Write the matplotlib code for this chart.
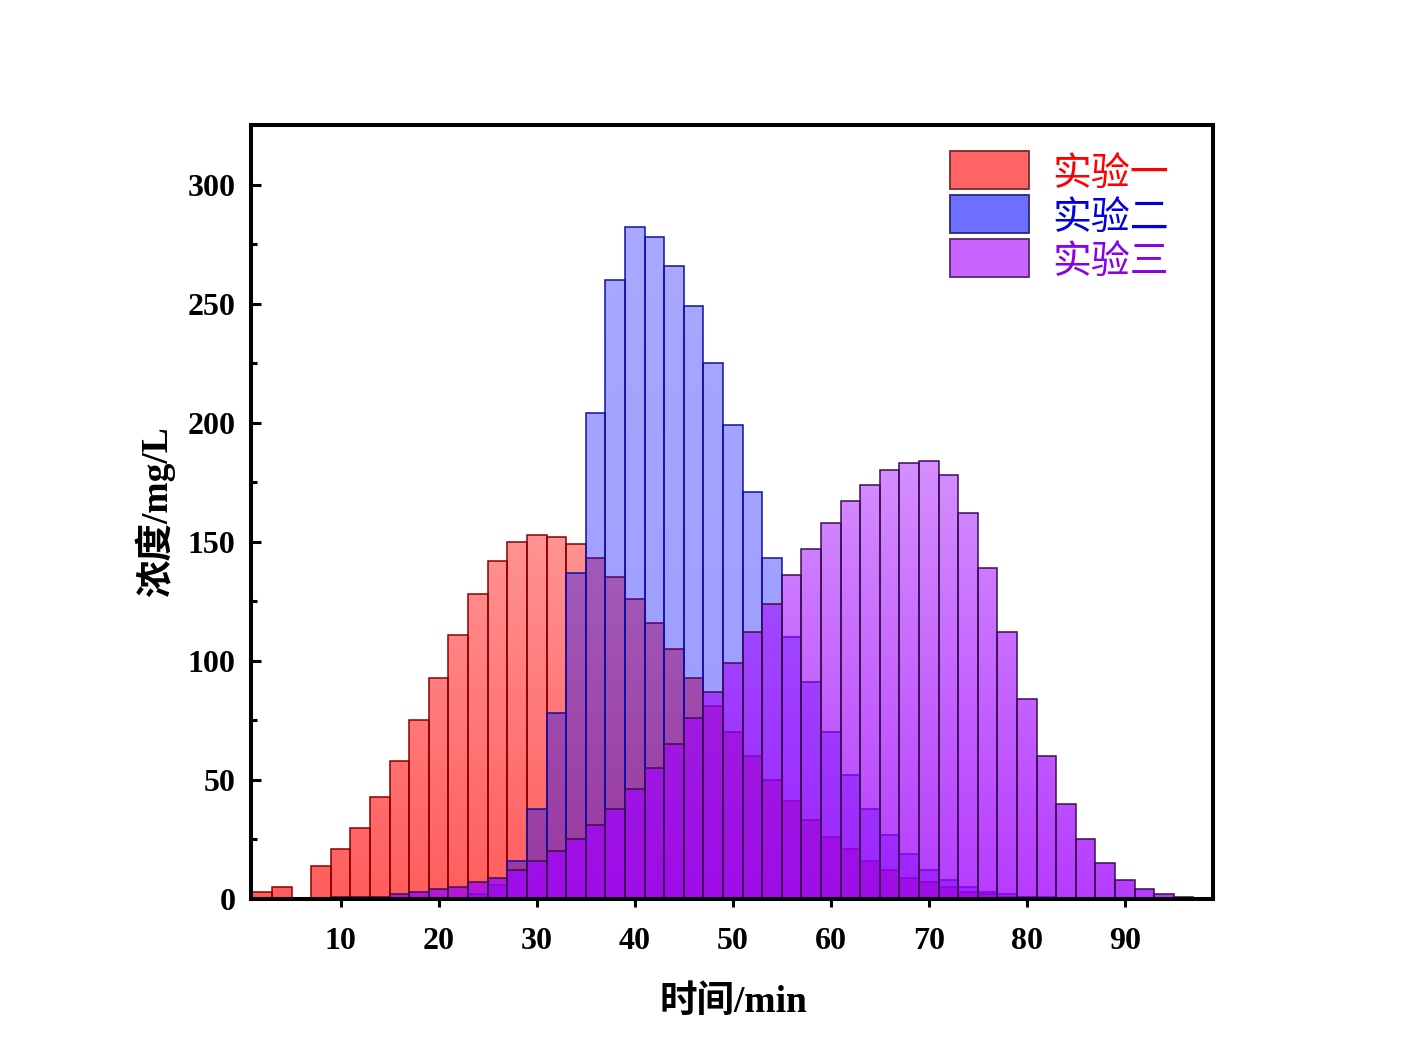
import numpy as np
import matplotlib
matplotlib.use("Agg")
import matplotlib.pyplot as plt
from matplotlib.path import Path
from matplotlib.patches import PathPatch, Rectangle
from matplotlib.ticker import MultipleLocator
from matplotlib.colors import to_rgb

plt.rcParams['font.family'] = ['Liberation Serif', 'Noto Sans CJK SC', 'DejaVu Sans']

# ---- data ----
bin_centers = list(range(2, 97, 2))  # bins of width 2: [1,3], [3,5], ... [95,97]
exp1 = [3, 5, 0, 14, 21, 30, 43, 58, 75, 93, 111, 128, 142, 150, 153, 152, 149, 143,
        135, 126, 116, 105, 93, 81, 70, 60, 50, 41, 33, 26, 21, 16, 12, 9, 7, 5, 3, 2,
        1, 1, 0, 0, 0, 0, 0, 0, 0, 0]
exp2 = [0, 0, 0, 0, 0, 0, 0, 0, 0, 0, 0, 2, 6, 16, 38, 78, 137, 204, 260, 282, 278,
        266, 249, 225, 199, 171, 143, 110, 91, 70, 52, 38, 27, 19, 12, 8, 5, 3, 2, 1,
        1, 0, 0, 0, 0, 0, 0, 0]
exp3 = [0, 0, 0, 0, 1, 1, 1, 2, 3, 4, 5, 7, 9, 12, 16, 20, 25, 31, 38, 46, 55, 65,
        76, 87, 99, 112, 124, 136, 147, 158, 167, 174, 180, 183, 184, 178, 162, 139,
        112, 84, 60, 40, 25, 15, 8, 4, 2, 1]
series_names = ['实验一', '实验二', '实验三']
bin_width = 2
x_ticks = [10, 20, 30, 40, 50, 60, 70, 80, 90]
y_ticks = [0, 50, 100, 150, 200, 250, 300]
x_label = '时间/min'
y_label = '浓度/mg/L'

XMIN, XMAX, YMIN, YMAX = 0.85, 99.0, 0, 325

fill_colors = ['#FF0000', '#0000FF', '#A000FF']
alpha_ranges = [(0.64, 0.22), (0.40, 0.34), (0.77, 0.24)]  # alpha at y=0 and y=300
edge_colors = ['#8C0000', '#1010A8', '#3A1050']
text_colors = ['#FF0000', '#0000E0', '#8C00E6']
legend_face = ['#FF6464', '#6E6EFF', '#C864FF']
legend_edge = ['#7A2A2A', '#2A2A7A', '#5A2A6A']

fig = plt.figure(figsize=(14.11, 10.5), dpi=100)
ax = fig.add_axes([251 / 1411, 1 - 899 / 1050, 962 / 1411, 774 / 1050])


def gradient_bars(ax, xs, hs, color, arange, edge, z):
    bars = ax.bar(xs, hs, width=bin_width, fill=False, edgecolor=edge,
                  linewidth=1.1, zorder=z + 0.1)
    verts, codes = [], []
    for b in bars:
        x0, y0 = b.get_x(), b.get_y()
        w, h = b.get_width(), b.get_height()
        if h <= 0:
            continue
        verts += [(x0, y0), (x0 + w, y0), (x0 + w, y0 + h), (x0, y0 + h), (x0, y0)]
        codes += [Path.MOVETO, Path.LINETO, Path.LINETO, Path.LINETO, Path.CLOSEPOLY]
    clip = PathPatch(Path(verts, codes), facecolor='none', edgecolor='none',
                     transform=ax.transData)
    ax.add_patch(clip)
    n = 400
    yy = np.linspace(YMIN, YMAX, n)
    a0, a1 = arange
    alpha = np.clip(a0 + (a1 - a0) * yy / 300.0, 0, 1)
    img = np.zeros((n, 2, 4))
    img[..., :3] = to_rgb(color)
    img[..., 3] = alpha[:, None]
    im = ax.imshow(img, extent=(XMIN, XMAX, YMIN, YMAX), origin='lower',
                   aspect='auto', zorder=z, interpolation='bilinear')
    im.set_clip_path(clip)


for i, data in enumerate([exp1, exp2, exp3]):
    gradient_bars(ax, bin_centers, data, fill_colors[i], alpha_ranges[i],
                  edge_colors[i], z=1 + i)

ax.set_xlim(XMIN, XMAX)
ax.set_ylim(YMIN, YMAX)

# spines
for s in ax.spines.values():
    s.set_linewidth(2.9)
    s.set_zorder(10)

ax.set_xticks(x_ticks)
ax.set_yticks(y_ticks)
ax.yaxis.set_minor_locator(MultipleLocator(25))
ax.tick_params(axis='x', which='major', direction='out', length=6, width=2.2,
               pad=14, labelsize=23, top=False)
ax.tick_params(axis='x', which='minor', bottom=False, top=False)
ax.tick_params(axis='y', which='major', direction='in', length=7, width=2.2,
               pad=11, labelsize=23, right=False)
ax.tick_params(axis='y', which='minor', direction='in', length=4, width=2.2,
               right=False)
for lab in ax.get_xticklabels() + ax.get_yticklabels():
    lab.set_fontweight('bold')

ax.set_xlabel(x_label, fontsize=27, fontweight='bold', va='center')
ax.set_ylabel(y_label, fontsize=27, fontweight='bold', va='center')
ax.xaxis.set_label_coords(0.501, (899 - 1002) / 774)
ax.yaxis.set_label_coords((155 - 251) / 962, 0.5)

# legend (manual, in axes fraction)
px2ax_x = lambda px: (px - 251) / 962
px2ax_y = lambda py: (899 - py) / 774
patch_tops = [151, 195, 239]
for i, name in enumerate(series_names):
    top = patch_tops[i]
    x0 = px2ax_x(950)
    w = px2ax_x(1029) - x0
    y0 = px2ax_y(top + 38)
    h = px2ax_y(top) - y0
    ax.add_patch(Rectangle((x0, y0), w, h, transform=ax.transAxes,
                           facecolor=legend_face[i], edgecolor=legend_edge[i],
                           linewidth=1.3, zorder=12))
    ax.text(px2ax_x(1052), px2ax_y(top + 23), name, transform=ax.transAxes,
            fontsize=28, color=text_colors[i], ha='left', va='center',
            family=['Noto Sans CJK SC'], zorder=12)

fig.savefig('out.png', dpi=100)
